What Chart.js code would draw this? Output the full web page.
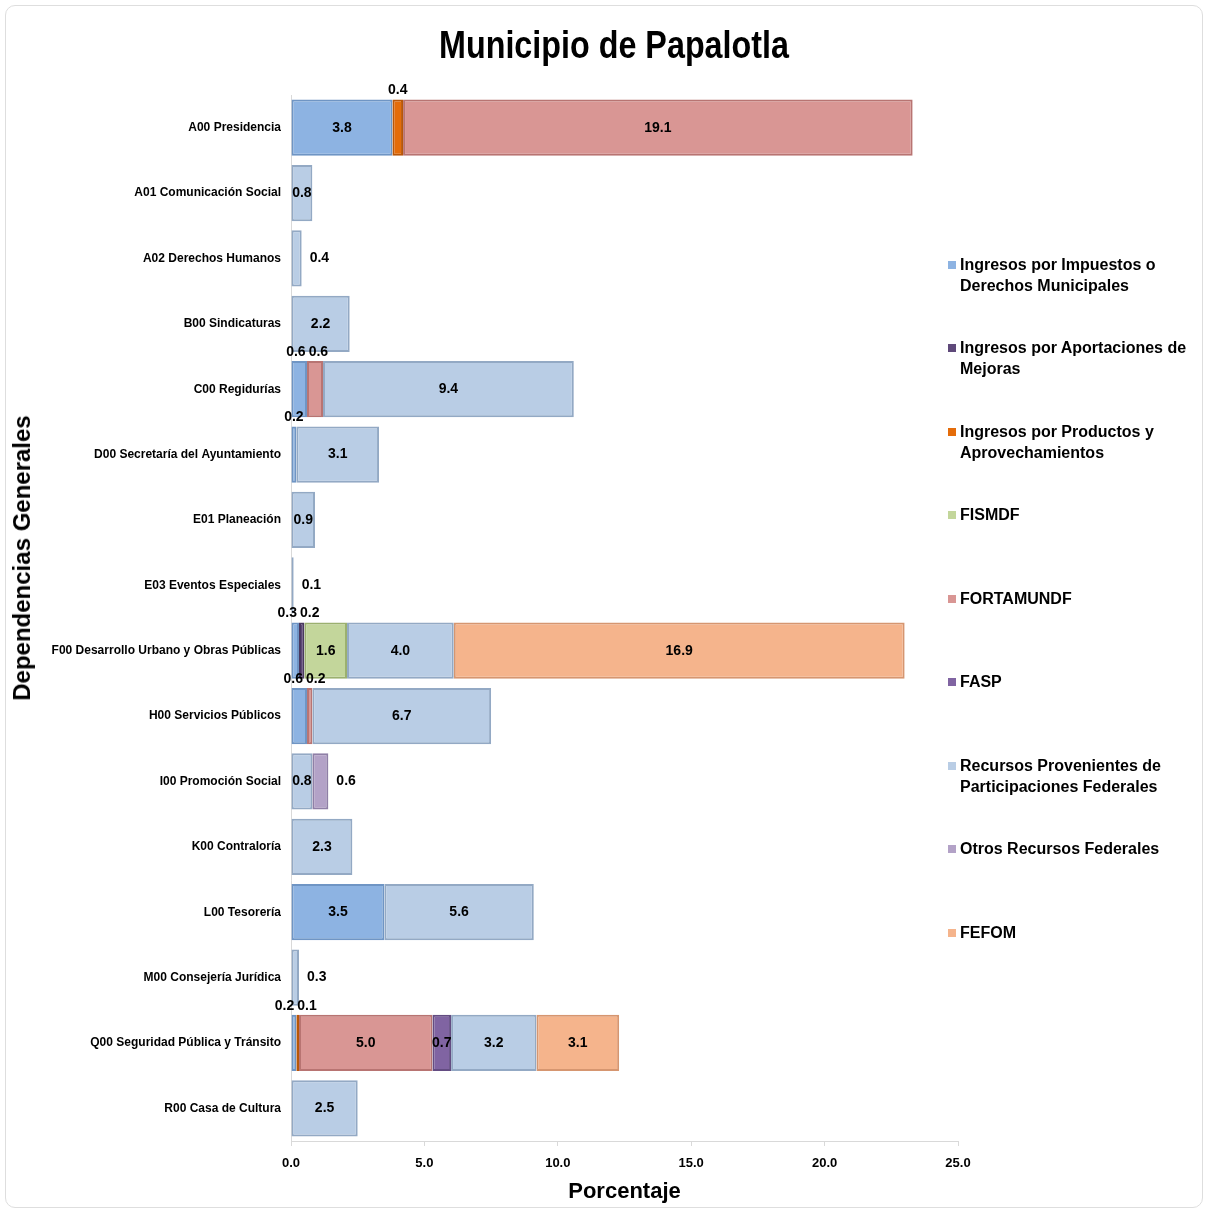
<!DOCTYPE html>
<html>
<head>
<meta charset="utf-8">
<script src="https://cdn.jsdelivr.net/npm/chart.js@4.4.1/dist/chart.umd.min.js"></script>
<style>
  body { margin: 0; background: #fff; }
  #wrap { position: relative; width: 1206px; height: 1211px; font-family: "Liberation Sans", Arial, sans-serif; }
  #frame { position: absolute; left: 5px; top: 5px; width: 1196px; height: 1201px; border: 1px solid #dedede; border-radius: 10px; }
  #chart { position: absolute; left: 0; top: 0; }
  #title { position: absolute; left: 614px; top: 24px; transform: translateX(-50%) scaleX(0.85); white-space: nowrap; font: bold 38px "Liberation Sans", Arial, sans-serif; color: #000; }
  #ytitle { position: absolute; left: 22px; top: 558px; transform: translate(-50%, -50%) rotate(-90deg); white-space: nowrap; font: bold 24px "Liberation Sans", Arial, sans-serif; color: #000; }
  #legend { position: absolute; left: 948px; top: 254px; width: 258px; }
  .item { position: absolute; left: 0; font: bold 16px/21px "Liberation Sans", Arial, sans-serif; color: #000; padding-left: 12px; white-space: nowrap; }
  .item i { position: absolute; left: 0; top: 7px; width: 8px; height: 8px; }
</style>
</head>
<body>
<div id="wrap">
  <div id="frame"></div>
  <canvas id="chart" width="1206" height="1211"></canvas>
  <div id="title">Municipio de Papalotla</div>
  <div id="ytitle">Dependencias Generales</div>
  <div id="legend"></div>
</div>
<script>
const categories = [
  'A00 Presidencia', 'A01 Comunicación Social', 'A02 Derechos Humanos', 'B00 Sindicaturas',
  'C00 Regidurías', 'D00 Secretaría del Ayuntamiento', 'E01 Planeación', 'E03 Eventos Especiales',
  'F00 Desarrollo Urbano y Obras Públicas', 'H00 Servicios Públicos', 'I00 Promoción Social',
  'K00 Contraloría', 'L00 Tesorería', 'M00 Consejería Jurídica', 'Q00 Seguridad Pública y Tránsito',
  'R00 Casa de Cultura'
];

const impuestos       = [3.8, null, null, null, 0.6, 0.2, null, null, 0.3, 0.6, null, null, 3.5, null, 0.2, null];
const mejoras         = [null, null, null, null, null, null, null, null, 0.2, null, null, null, null, null, null, null];
const productos       = [0.4, null, null, null, null, null, null, null, null, null, null, null, null, null, 0.1, null];
const fismdf          = [null, null, null, null, null, null, null, null, 1.6, null, null, null, null, null, null, null];
const fortamundf      = [19.1, null, null, null, 0.6, null, null, null, null, 0.2, null, null, null, null, 5.0, null];
const fasp            = [null, null, null, null, null, null, null, null, null, null, null, null, null, null, 0.7, null];
const participaciones = [null, 0.8, 0.4, 2.2, 9.4, 3.1, 0.9, 0.1, 4.0, 6.7, 0.8, 2.3, 5.6, 0.3, 3.2, 2.5];
const otros           = [null, null, null, null, null, null, null, null, null, null, 0.6, null, null, null, null, null];
const fefom           = [null, null, null, null, null, null, null, null, 16.9, null, null, null, null, null, 3.1, null];

const xTicks = [0, 5, 10, 15, 20, 25];

const series = [
  { label: ['Ingresos por Impuestos o', 'Derechos Municipales'], data: impuestos, fill: '#8db3e2', line: '#6f95c4' },
  { label: ['Ingresos por Aportaciones de', 'Mejoras'], data: mejoras, fill: '#5f497a', line: '#4a3860' },
  { label: ['Ingresos por Productos y', 'Aprovechamientos'], data: productos, fill: '#e46c0a', line: '#b85608' },
  { label: ['FISMDF'], data: fismdf, fill: '#c3d69b', line: '#9bb06f' },
  { label: ['FORTAMUNDF'], data: fortamundf, fill: '#d99694', line: '#b87472' },
  { label: ['FASP'], data: fasp, fill: '#8064a2', line: '#634c82' },
  { label: ['Recursos Provenientes de', 'Participaciones Federales'], data: participaciones, fill: '#b9cde5', line: '#93a9c4' },
  { label: ['Otros Recursos Federales'], data: otros, fill: '#b3a2c7', line: '#8f7fa6' },
  { label: ['FEFOM'], data: fefom, fill: '#f5b48c', line: '#d69670' }
];

// legend on the right
const legendTops = [0, 83, 167, 250, 334, 417, 501, 584, 668];
const legendBox = document.getElementById('legend');
series.forEach(function(s, i) {
  const div = document.createElement('div');
  div.className = 'item';
  div.style.top = legendTops[i] + 'px';
  div.innerHTML = '<i style="background:' + s.fill + '"></i>' + s.label.join('<br>');
  legendBox.appendChild(div);
});

// value labels: centered inside, above the bar for small pieces, to the right for a small last piece
const valueLabels = {
  id: 'valueLabels',
  afterDatasetsDraw(chart) {
    const ctx = chart.ctx;
    ctx.save();
    ctx.font = 'bold 14px "Liberation Sans", Arial, sans-serif';
    ctx.fillStyle = '#000';
    ctx.textBaseline = 'middle';
    for (let i = 0; i < categories.length; i++) {
      let last = -1;
      chart.data.datasets.forEach(function(ds, d) { if (ds.data[i] != null) last = d; });
      let above = [];
      chart.data.datasets.forEach(function(ds, d) {
        const v = ds.data[i];
        if (v == null) return;
        const el = chart.getDatasetMeta(d).data[i];
        const txt = v.toFixed(1);
        const w = ctx.measureText(txt).width;
        if (v < 0.7 && d === last) {
          ctx.textAlign = 'left';
          ctx.fillText(txt, el.x + 8, el.y);
        } else if (v < 0.7) {
          above.push({ txt: txt, w: w, cx: (el.x + el.base) / 2, y: el.y - el.height / 2 - 9 });
        } else {
          ctx.textAlign = 'center';
          ctx.fillText(txt, (el.x + el.base) / 2, el.y);
        }
      });
      if (above.length === 2) {
        const a = above[0], b = above[1];
        const need = (a.w + b.w) / 2 + 3;
        if (b.cx - a.cx < need) {
          const mid = (a.cx + b.cx) / 2;
          a.cx = mid - need / 2;
          b.cx = mid + need / 2;
        }
      }
      above.forEach(function(a) {
        ctx.textAlign = 'center';
        ctx.fillText(a.txt, a.cx, a.y);
      });
    }
    ctx.restore();
  }
};

new Chart(document.getElementById('chart').getContext('2d'), {
  type: 'bar',
  data: {
    labels: categories,
    datasets: series.map(function(s) {
      return {
        label: s.label.join(' '),
        data: s.data,
        backgroundColor: s.fill,
        borderColor: s.line,
        borderWidth: 2,
        borderSkipped: false,
        barPercentage: 0.86,
        categoryPercentage: 1.0
      };
    })
  },
  options: {
    indexAxis: 'y',
    responsive: false,
    animation: false,
    layout: { padding: { left: 8, right: 248, top: 95, bottom: 6 } },
    plugins: {
      legend: { display: false },
      tooltip: { enabled: false }
    },
    scales: {
      x: {
        stacked: true,
        min: 0,
        max: 25,
        afterBuildTicks: function(scale) { scale.ticks = xTicks.map(function(v) { return { value: v }; }); },
        afterFit: function(scale) { scale.height = 64; },
        grid: { drawOnChartArea: false, drawTicks: true, tickLength: 5, color: '#d9d9d9' },
        border: { color: '#d9d9d9' },
        ticks: {
          padding: 10,
          color: '#000',
          font: { family: '"Liberation Sans", Arial, sans-serif', size: 13, weight: 'bold' },
          callback: function(v) { return Number(v).toFixed(1); }
        },
        title: {
          display: true,
          text: 'Porcentaje',
          color: '#000',
          padding: { top: 0, bottom: 0 },
          font: { family: '"Liberation Sans", Arial, sans-serif', size: 22, weight: 'bold' }
        }
      },
      y: {
        stacked: true,
        afterFit: function(scale) { scale.width = 283; },
        grid: { drawOnChartArea: false, drawTicks: false, color: '#d9d9d9' },
        border: { color: '#d9d9d9' },
        ticks: {
          padding: 10,
          color: '#000',
          font: { family: '"Liberation Sans", Arial, sans-serif', size: 12, weight: 'bold' }
        }
      }
    }
  },
  plugins: [valueLabels]
});
</script>
</body>
</html>
